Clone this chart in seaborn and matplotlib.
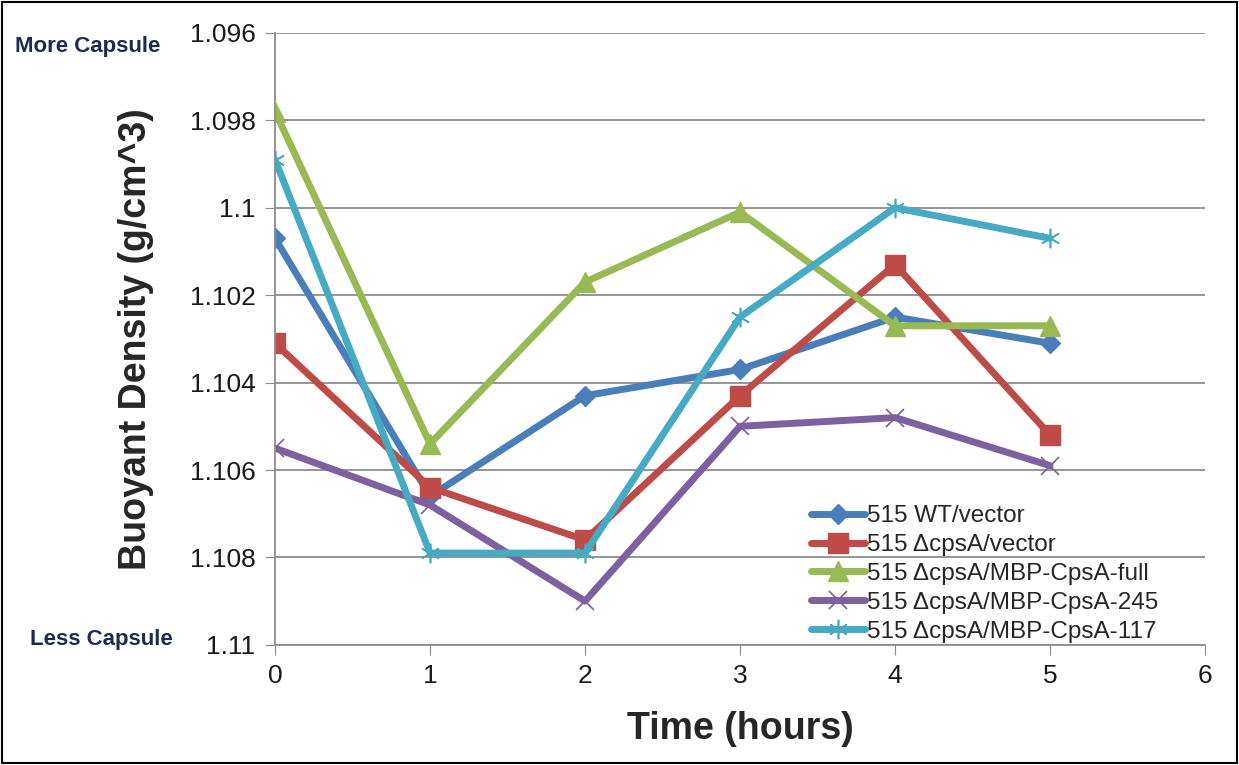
import seaborn as sns
import matplotlib.pyplot as plt
import pandas as pd

# Datos
horas = [0, 1, 2, 3, 4, 5]
wt_vector = [1.1007, 1.1066, 1.1043, 1.1037, 1.1025, 1.1031]
cpsa_vector = [1.1031, 1.1064, 1.1076, 1.1043, 1.1013, 1.1052]
cpsa_full = [1.0978, 1.1054, 1.1017, 1.1001, 1.1027, 1.1027]
cpsa_245 = [1.1055, 1.1068, 1.1090, 1.1050, 1.1048, 1.1059]
cpsa_117 = [1.0989, 1.1079, 1.1079, 1.1025, 1.1000, 1.1007]

series = ["515 WT/vector", "515 ΔcpsA/vector", "515 ΔcpsA/MBP-CpsA-full",
          "515 ΔcpsA/MBP-CpsA-245", "515 ΔcpsA/MBP-CpsA-117"]
valores = [wt_vector, cpsa_vector, cpsa_full, cpsa_245, cpsa_117]
colores = ["#4a7ebb", "#be4b48", "#98b954", "#7d60a0", "#46aac5"]
marcadores = ["D", "s", "^", "x", (6, 2, 0)]
tamanos = [10, 14, 14, 13, 14]

filas = []
for nombre, vals in zip(series, valores):
    for h, v in zip(horas, vals):
        filas.append({"Tiempo": h, "Serie": nombre, "Densidad": v})
df = pd.DataFrame(filas)

sns.set_style("white")
plt.rcParams["font.family"] = ["Liberation Sans", "DejaVu Sans"]

fig = plt.figure(figsize=(12.39, 7.65), dpi=100)
ax = fig.add_axes([0.222, 0.157, 0.7506, 0.8])

for nombre, c, m, ms in zip(series, colores, marcadores, tamanos):
    d = df[df["Serie"] == nombre]
    fino = not isinstance(m, str) or m == "x"
    sns.lineplot(data=d, x="Tiempo", y="Densidad", ax=ax, color=c, marker=m,
                 markersize=ms, linewidth=5, label=nombre,
                 markeredgecolor=c, markeredgewidth=1.2 if fino else 1)

ax.set_xlim(0, 6)
ax.set_ylim(1.11, 1.096)
ax.set_xticks(range(7))
yt = [1.096, 1.098, 1.1, 1.102, 1.104, 1.106, 1.108, 1.11]
ax.set_yticks(yt)
ax.set_yticklabels(["1.096", "1.098", "1.1", "1.102", "1.104", "1.106", "1.108", "1.11"])
ax.tick_params(axis="both", labelsize=19, colors="#8c8c8c", labelcolor="#1a1a1a",
               length=7, direction="out", left=True, bottom=True, pad=7)
ax.grid(axis="y", color="#8c8c8c", linewidth=1.3)
for s in ["top", "right"]:
    ax.spines[s].set_visible(False)
for s in ["left", "bottom"]:
    ax.spines[s].set_color("#8c8c8c")
    ax.spines[s].set_linewidth(1.3)

ax.set_xlabel("Time (hours)", fontsize=27, fontweight="bold", labelpad=16)
ax.set_ylabel("Buoyant Density (g/cm^3)", fontsize=27, fontweight="bold", labelpad=26)

fig.text(0.012, 0.932, "More Capsule", fontsize=16, fontweight="bold", color="#1f2a4f")
fig.text(0.024, 0.157, "Less Capsule", fontsize=16, fontweight="bold", color="#1f2a4f")

leg = ax.legend(loc="lower left", bbox_to_anchor=(0.566, -0.012), frameon=False,
                fontsize=17.5, handlelength=2.2, handletextpad=0.1, labelspacing=0.28,
                borderaxespad=0.0)

# borde negro de la figura
fig.patches.append(plt.Rectangle((0.002, 0.002), 0.996, 0.996, transform=fig.transFigure,
                                 fill=False, edgecolor="black", linewidth=1.5))

fig.savefig("out.png", dpi=100)
